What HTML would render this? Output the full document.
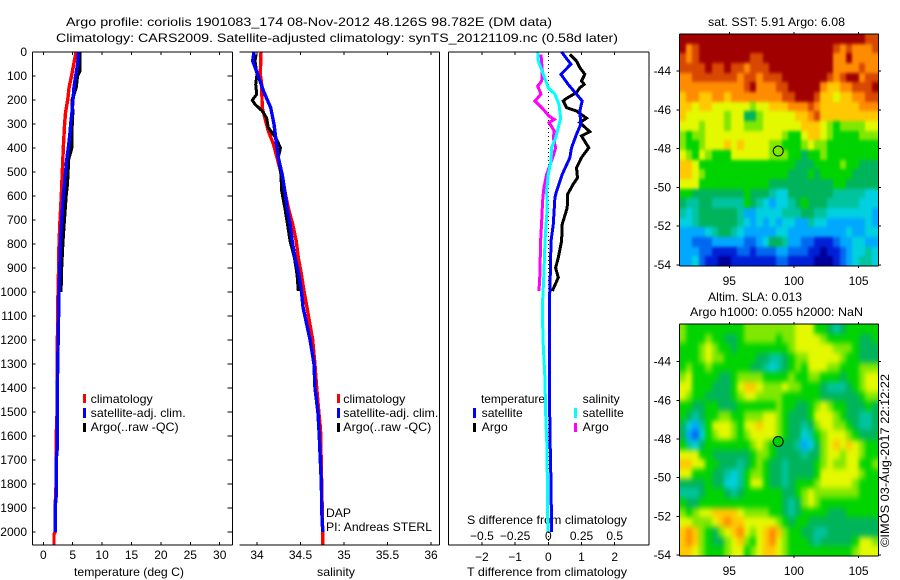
<!DOCTYPE html>
<html>
<head>
<meta charset="utf-8">
<title>Argo profile</title>
<style>
html,body{margin:0;padding:0;background:#fff;width:900px;height:580px;overflow:hidden}
svg{display:block}
text{font-family:"Liberation Sans",sans-serif;font-size:12px;fill:#000}
.ln{fill:none;shape-rendering:crispEdges}
</style>
</head>
<body>
<svg id="fig" xmlns="http://www.w3.org/2000/svg" width="900" height="580" viewBox="0 0 900 580">
<defs>
<filter id="sst-smooth" x="-10%" y="-10%" width="120%" height="120%" color-interpolation-filters="sRGB"><feGaussianBlur stdDeviation="1.2 1.7"/></filter>
<filter id="sla-smooth" x="-10%" y="-10%" width="120%" height="120%" color-interpolation-filters="sRGB"><feGaussianBlur stdDeviation="2.2 3"/></filter>
<clipPath id="sst-clip"><rect x="679.5" y="34" width="199" height="232"/></clipPath>
<clipPath id="sla-clip"><rect x="679.5" y="324" width="199" height="232"/></clipPath>
</defs>
<text x="66" y="26" textLength="486" lengthAdjust="spacingAndGlyphs">Argo profile: coriolis 1901083_174 08-Nov-2012 48.126S 98.782E (DM data)</text>
<text x="56" y="42" textLength="562" lengthAdjust="spacingAndGlyphs">Climatology: CARS2009. Satellite-adjusted climatology: synTS_20121109.nc (0.58d later)</text>
<text x="74" y="576" textLength="110" lengthAdjust="spacingAndGlyphs">temperature (deg C)</text>
<text x="317" y="576" textLength="38" lengthAdjust="spacingAndGlyphs">salinity</text>
<text x="467" y="576" textLength="160" lengthAdjust="spacingAndGlyphs">T difference from climatology</text>
<text x="467" y="524" textLength="160" lengthAdjust="spacingAndGlyphs">S difference from climatology</text>
<rect x="83" y="394" width="3" height="9" fill="#f00"/>
<text x="90.7" y="403" textLength="62" lengthAdjust="spacingAndGlyphs">climatology</text>
<rect x="83" y="408" width="3" height="10" fill="#00f"/>
<text x="90.7" y="417" textLength="95" lengthAdjust="spacingAndGlyphs">satellite-adj. clim.</text>
<rect x="83" y="423" width="3" height="9" fill="#000"/>
<text x="90.7" y="431" textLength="88" lengthAdjust="spacingAndGlyphs">Argo(..raw -QC)</text>
<rect x="337" y="394" width="3" height="9" fill="#f00"/>
<text x="343.3" y="403" textLength="62" lengthAdjust="spacingAndGlyphs">climatology</text>
<rect x="337" y="408" width="3" height="10" fill="#00f"/>
<text x="343.3" y="417" textLength="95" lengthAdjust="spacingAndGlyphs">satellite-adj. clim.</text>
<rect x="337" y="423" width="3" height="9" fill="#000"/>
<text x="343.3" y="431" textLength="88" lengthAdjust="spacingAndGlyphs">Argo(..raw -QC)</text>
<text x="326" y="517" textLength="25" lengthAdjust="spacingAndGlyphs">DAP</text>
<text x="326" y="531" textLength="106" lengthAdjust="spacingAndGlyphs">PI: Andreas STERL</text>
<text x="481" y="403" textLength="64" lengthAdjust="spacingAndGlyphs">temperature</text>
<rect x="473" y="408" width="3" height="10" fill="#00f"/>
<text x="481.7" y="417" textLength="41" lengthAdjust="spacingAndGlyphs">satellite</text>
<rect x="473" y="423" width="3" height="9" fill="#000"/>
<text x="481.7" y="431" textLength="26" lengthAdjust="spacingAndGlyphs">Argo</text>
<text x="582.7" y="403" textLength="37" lengthAdjust="spacingAndGlyphs">salinity</text>
<rect x="574" y="408" width="3" height="10" fill="#0ff"/>
<text x="582.7" y="417" textLength="41" lengthAdjust="spacingAndGlyphs">satellite</text>
<rect x="574" y="423" width="3" height="9" fill="#f0f"/>
<text x="582.7" y="431" textLength="26" lengthAdjust="spacingAndGlyphs">Argo</text>
<text x="708" y="26" textLength="137" lengthAdjust="spacingAndGlyphs">sat. SST: 5.91 Argo: 6.08</text>
<text x="708" y="301" textLength="94" lengthAdjust="spacingAndGlyphs">Altim. SLA: 0.013</text>
<text x="690" y="316" textLength="173" lengthAdjust="spacingAndGlyphs">Argo h1000: 0.055 h2000: NaN</text>
<text transform="translate(889,547) rotate(-90)" x="0" y="0" textLength="173" lengthAdjust="spacingAndGlyphs">©IMOS 03-Aug-2017 22:12:22</text>
</svg>
<script>
var depthTicks = [0,100,200,300,400,500,600,700,800,900,1000,1100,1200,1300,1400,1500,1600,1700,1800,1900,2000];
var tempTicks = [0,5,10,15,20,25,30];
var salTicks = [34,34.5,35,35.5,36];
var salTickLabels = ['34','34.5','35','35.5','36'];
var tDiffTicks = [-2,-1,0,1,2];
var tDiffLabels = ['\u22122','\u22121','0','1','2'];
var sDiffTicks = [-0.5,-0.25,0,0.25,0.5];
var sDiffLabels = ['\u22120.5','\u22120.25','0','0.25','0.5'];
var lonTicks = [95,100,105];
var latTicks = [-44,-46,-48,-50,-52,-54];

var tempClimDepth = [0,100,150,200,250,300,400,500,600,700,800,900,1000,1200,1400,1500,1600,1800,1900,2000,2010,2055];
var tempClimValue = [5.56,4.8,4.37,4.15,3.8,3.63,3.4,3.23,3.06,2.84,2.67,2.6,2.5,2.4,2.38,2.35,2.2,2.18,2.0,2.0,1.82,1.82];
var tempSatDepth = [0,50,100,150,200,250,300,350,400,450,500,600,700,800,900,1000,1400,1650,1700,1850,1900,2000];
var tempSatValue = [6.0,5.85,5.5,5.2,5.05,4.88,4.66,4.49,4.25,3.98,3.8,3.4,3.13,2.9,2.8,2.67,2.38,2.38,2.2,2.2,2.0,2.0];
var tempArgoDepth = [0,80,100,150,200,250,300,350,400,450,500,550,600,700,800,900,1000];
var tempArgoValue = [6.24,6.2,5.8,5.56,4.9,5.0,4.9,4.83,4.83,4.25,4.2,4.08,3.86,3.57,3.3,3.1,3.0];

var salClimDepth = [0,93,135,232,274,329,385,440,510,579,649,718,788,857,926,996,1065,1200,1300,1400,1500,1570,2000,2055];
var salClimValue = [34.046,34.038,34.054,34.06,34.09,34.13,34.19,34.23,34.28,34.32,34.36,34.41,34.45,34.475,34.51,34.54,34.575,34.64,34.665,34.686,34.71,34.73,34.755,34.755];
var salSatDepth = [0,38,93,162,232,301,371,440,510,579,649,718,788,857,926,996,1065,1200,1300,1400,1500,1600,1700,1800,1900,2000];
var salSatValue = [33.966,33.95,34.008,34.073,34.157,34.195,34.22,34.245,34.29,34.32,34.345,34.38,34.405,34.437,34.48,34.51,34.53,34.61,34.655,34.667,34.7,34.716,34.728,34.74,34.743,34.755];
var salArgoDepth = [10,38,93,135,176,201,218,246,274,315,357,399,440,510,579,649,718,788,857,926,996];
var salArgoValue = [33.99,33.977,34,33.985,33.996,33.946,33.977,34.06,34.11,34.13,34.215,34.27,34.245,34.275,34.284,34.32,34.35,34.38,34.43,34.46,34.475];

var tDiffSatDepth = [0,51,93,135,176,204,246,301,343,399,440,510,579,607,718,788,926,1065,1367,1600,1800,2000];
var tDiffSatValue = [0.4,0.68,0.38,0.6,0.85,1.02,0.95,0.98,0.85,0.7,0.65,0.42,0.25,0.2,0.15,0.08,0.06,0.03,0.03,0.05,0.08,0.1];
var tDiffArgoDepth = [10,38,65,93,121,135,149,169,193,204,232,246,276,294,332,350,399,440,482,524,551,593,649,718,788,857,899,940,996];
var tDiffArgoValue = [0.65,0.85,0.95,1.1,1.0,1.08,0.95,0.85,0.55,0.45,0.55,0.85,1.15,0.95,1.25,1.0,1.22,1.0,0.85,0.88,0.75,0.58,0.57,0.42,0.4,0.3,0.22,0.3,0.12];
var sDiffSatDepth = [0,38,93,149,176,218,274,315,357,399,454,510,579,649,788,926,1065,1200,1367,1500,1650,2000];
var sDiffSatValue = [-0.08,-0.075,-0.038,0,0.05,0.08,0.093,0.075,0.055,0.025,0.02,0,-0.013,-0.008,-0.025,-0.033,-0.045,-0.04,-0.025,-0.02,-0.01,-0.003];
var sDiffArgoDepth = [10,79,121,142,176,204,239,267,281,294,329,357,399,433,510,565,621,704,788,926,996];
var sDiffArgoValue = [-0.055,-0.045,-0.05,-0.08,-0.055,-0.1,-0.038,0.005,0.045,0.005,0.045,0.038,0.055,0.038,-0.013,-0.033,-0.043,-0.05,-0.058,-0.063,-0.07];

var argoLon = 98.782;
var argoLat = -48.126;
var argoSstLevel = 8;
var argoSlaLevel = 7;

var sstLevels = [
[13,13,13,13,13,13,13,13,13,13,13,13,13,13,13,13,13,13,13,13,13,13,13,13,13,13,13,13,13,12,12],
[13,11,12,13,13,13,13,13,13,13,13,13,13,13,13,13,13,13,13,13,13,13,13,13,12,11,12,11,11,11,12],
[12,11,12,13,13,13,13,13,13,13,13,12,12,13,13,13,13,13,13,13,13,13,13,13,11,11,13,11,11,11,11],
[12,12,12,12,13,12,12,13,12,12,11,12,12,12,13,13,13,13,13,13,13,13,13,13,11,11,11,11,12,11,11],
[11,11,12,12,12,12,12,12,12,11,12,12,11,12,12,12,13,13,13,13,13,13,13,12,11,12,13,13,11,12,12],
[11,11,11,11,11,11,11,11,11,11,12,13,11,11,11,12,12,13,13,13,13,13,11,10,10,11,11,12,12,12,13],
[10,11,11,10,10,11,11,10,11,11,11,11,11,11,11,11,12,12,13,13,13,12,10,10,9,10,10,11,11,12,12],
[10,10,9,10,10,9,9,9,9,9,9,8,9,9,10,10,10,11,11,11,12,11,10,10,10,10,10,10,11,11,11],
[10,9,9,9,9,9,9,8,9,9,6,6,8,9,9,9,9,9,10,10,11,12,10,10,10,10,10,10,10,10,10],
[9,9,9,8,9,9,9,8,9,9,8,8,8,9,9,9,9,9,9,10,10,10,9,8,7,8,8,8,8,9,9],
[8,7,8,8,9,9,9,9,9,9,9,9,9,9,9,9,8,7,7,9,10,10,9,8,7,7,7,7,8,8,8],
[8,7,7,8,9,9,9,10,9,10,9,9,9,9,8,8,7,7,7,8,9,8,8,7,7,7,7,7,7,7,7],
[9,8,7,9,8,7,7,7,9,9,9,9,9,9,8,8,8,7,7,6,7,7,8,7,7,7,7,7,7,7,7],
[10,10,9,7,7,7,7,7,7,7,7,7,7,7,7,7,7,7,6,6,6,7,7,7,7,8,7,7,6,6,6],
[10,10,9,8,7,7,7,7,7,7,7,7,7,7,7,7,7,6,6,6,7,6,7,7,7,7,7,6,6,6,6],
[9,9,9,7,7,7,7,7,7,7,7,7,7,7,6,6,6,6,6,6,6,6,6,6,7,7,6,6,6,6,6],
[7,7,6,6,6,6,6,6,6,6,7,6,6,6,5,4,4,6,6,6,6,6,6,6,5,5,5,5,5,4,4],
[6,5,5,6,6,5,5,5,5,5,7,6,5,4,3,4,4,5,6,7,6,6,6,5,5,5,5,5,4,4,4],
[5,4,5,6,6,6,6,6,6,5,3,3,4,4,4,4,5,5,5,6,6,5,5,4,4,4,4,4,4,4,3],
[4,4,5,6,6,6,6,6,6,5,4,3,4,3,4,3,4,4,3,3,5,4,4,3,3,3,3,3,3,4,3],
[3,3,3,3,4,5,6,6,5,4,3,3,3,3,3,4,4,3,3,3,3,3,3,3,3,3,4,3,3,4,4],
[3,3,2,2,2,3,3,3,3,3,2,2,3,4,6,6,5,3,3,2,2,1,1,1,2,3,3,4,4,3,3],
[3,3,3,2,2,1,1,1,1,2,2,1,2,2,2,3,3,2,2,2,1,1,0,1,1,2,3,4,4,5,4],
[3,3,4,2,1,1,0,0,1,1,1,1,1,1,1,2,2,1,1,1,1,0,0,0,1,2,3,4,5,5,4]
];

var slaLevels = [
[8,7,7,7,7,7,7,7,7,7,8,8,8,8,8,8,8,8,9,9,9,7,7,6,5,6,7,7,7,7,7],
[8,7,7,7,8,7,7,6,6,7,8,8,8,8,8,7,8,8,9,9,9,9,8,7,7,7,7,7,6,6,7],
[7,7,7,8,9,8,7,7,6,7,7,7,7,7,7,7,7,8,9,9,9,9,9,9,8,8,8,7,6,6,6],
[7,7,7,8,9,8,8,7,7,7,7,7,6,6,5,5,6,7,8,8,9,9,9,9,9,8,7,7,6,6,6],
[7,8,7,7,8,7,7,7,7,7,7,6,6,5,4,5,6,7,8,7,9,9,9,8,8,7,7,7,8,8,8],
[8,9,7,7,7,7,6,6,7,8,8,8,8,7,7,7,7,8,7,7,8,8,7,7,7,6,7,7,8,9,9],
[9,9,7,7,7,6,6,6,7,9,10,10,9,8,8,8,9,8,8,7,7,7,6,5,5,5,6,7,8,9,9],
[9,8,7,7,6,6,6,6,7,8,9,9,8,8,8,8,7,7,7,7,7,7,6,6,6,6,6,6,7,8,8],
[7,7,6,6,7,7,6,6,6,7,7,7,7,7,7,8,7,7,6,6,7,8,9,8,7,7,6,6,6,7,6],
[7,6,5,6,7,7,8,8,7,7,8,8,8,9,9,8,7,6,6,6,7,9,9,9,8,7,6,6,5,5,6],
[6,4,3,5,7,9,9,9,8,7,9,9,10,9,9,8,7,6,6,5,6,8,9,9,8,8,7,6,5,5,6],
[6,3,2,4,7,8,9,9,8,7,8,9,9,9,9,8,7,6,6,4,5,7,8,9,9,9,8,7,6,6,6],
[7,5,4,6,7,7,7,7,7,7,7,8,9,8,7,6,6,6,5,3,4,6,8,9,10,9,10,9,8,7,7],
[9,9,9,7,7,6,6,6,6,6,6,7,8,8,7,6,6,6,6,5,6,6,8,9,9,8,9,9,8,7,7],
[10,10,9,9,7,7,6,6,6,5,6,7,8,7,6,6,5,6,6,6,6,7,8,9,8,8,9,9,7,7,8],
[9,9,7,7,7,6,6,5,4,5,7,8,8,7,6,6,5,6,6,6,6,7,9,9,9,9,9,9,8,7,7],
[6,6,6,6,7,6,6,4,4,5,7,9,9,7,6,6,5,6,7,7,7,8,9,9,9,9,9,8,7,7,7],
[5,5,5,6,7,7,7,6,5,6,7,7,7,7,7,7,6,6,7,8,9,8,8,8,8,8,8,8,7,7,7],
[7,6,6,7,7,7,7,7,7,7,7,7,7,7,7,7,6,5,6,8,9,8,7,7,7,7,7,7,7,7,7],
[8,7,8,9,9,10,10,10,10,9,8,8,8,8,7,7,6,5,6,7,7,7,7,6,6,6,7,7,7,7,7],
[9,9,8,8,8,9,10,11,10,10,9,9,9,9,9,8,7,6,7,7,6,6,6,6,6,6,6,6,6,6,6],
[10,11,10,8,7,6,8,9,10,11,9,8,9,10,11,10,8,7,7,6,6,5,5,6,6,6,6,6,6,6,6],
[10,11,10,8,7,6,6,8,9,10,8,7,9,10,11,9,8,7,7,7,6,5,6,6,6,6,6,7,9,9,8],
[10,10,9,8,7,7,7,8,9,9,7,8,9,10,10,9,8,7,7,7,7,7,7,7,7,7,7,8,9,9,9]
];

var NS = 'http://www.w3.org/2000/svg';
var fig = document.getElementById('fig');
var palette = ['#00009a','#0020d8','#0068f0','#00a8ff','#00d0e0','#00c4a0','#00b45c','#00d400','#80e800','#e4f800','#ffc800','#ff8c00','#d84800','#a00000'];

function depthToY(d){ return 52 + d * 0.24; }
function tempToX(t){ return 43.3 + t * 5.88; }
function salToX(s){ return 257 + (s - 34) * 87; }
function tDiffToX(t){ return 548.3 + t * 33.2; }
function sDiffToX(s){ return 548.3 + s * 132.8; }
function lonToX(lon){ return 729.3 + (lon - 95) * 12.93; }

function make(tag, attrs, parent){
  var el = document.createElementNS(NS, tag);
  for (var k in attrs) el.setAttribute(k, attrs[k]);
  (parent || fig).appendChild(el);
  return el;
}

function seg(x1, y1, x2, y2, name){
  var el = make('line', {x1:x1, y1:y1, x2:x2, y2:y2, stroke:'#000', 'stroke-width':1, 'shape-rendering':'crispEdges'});
  
  
  return el;
}

function label(x, y, str, anchor, name){
  var el = make('text', {x:x, y:y, 'text-anchor':anchor});
  el.textContent = str;
  
  
  return el;
}

function profile(depths, values, xFn, color, width, name){
  var pts = depths.map(function(d, i){ return xFn(values[i]).toFixed(1) + ',' + depthToY(d).toFixed(1); }).join(' ');
  var el = make('polyline', {points:pts, stroke:color, 'stroke-width':width, 'class':'ln'});
  
  
  return el;
}

function heatmap(levels, left, right, top, bottom, name, clipId, filterId){
  var rows = levels.length, cols = levels[0].length;
  var w = (right - left) / cols, h = (bottom - top) / rows;
  var clipGroup = make('g', {'clip-path':'url(#' + clipId + ')'});
  
  
  var blurGroup = make('g', {filter:'url(#' + filterId + ')'}, clipGroup);
  
  
  levels.forEach(function(row, r){
    row.forEach(function(v, c){
      var x0 = Math.round(left + c * w), x1 = Math.round(left + (c + 1) * w);
      var y0 = Math.round(top + r * h), y1 = Math.round(top + (r + 1) * h);
      if (c === 0) x0 -= 15;
      if (c === cols - 1) x1 += 15;
      if (r === 0) y0 -= 15;
      if (r === rows - 1) y1 += 15;
      var el = make('rect', {x:x0, y:y0, width:x1 - x0 + 0.5, height:y1 - y0 + 0.5, fill:palette[v]}, blurGroup);
      
      
    });
  });
}

function mapFrame(top, bottom, lat44, latScale, name, argoLevel){
  var latToY = function(lat){ return lat44 + (-44 - lat) * latScale; };
  [[679.5,top,878.5,top],[679.5,bottom,878.5,bottom],[679.5,top,679.5,bottom],[878.5,top,878.5,bottom]].forEach(function(p){
    seg(p[0], p[1], p[2], p[3], name + '-border');
  });
  lonTicks.forEach(function(lon){
    var x = lonToX(lon);
    seg(x, top - 2, x, top, name + '-top-tick');
    seg(x, bottom, x, bottom + 2, name + '-lon-tick');
    label(x, bottom + 19, String(lon), 'middle', name + '-lon-label');
  });
  latTicks.forEach(function(lat){
    var y = latToY(lat);
    seg(676.5, y, 679.5, y, name + '-lat-tick');
    seg(878.5, y, 881, y, name + '-right-tick');
    label(671, y + 4, String(lat), 'end', name + '-lat-label');
  });
  var marker = make('circle', {cx:lonToX(argoLon), cy:latToY(argoLat), r:5, fill:palette[argoLevel], stroke:'#000', 'stroke-width':1});
  
  
}

function xAxisTicks(ticks, labels, xFn, labelY, name, topTicks){
  ticks.forEach(function(t, i){
    var x = xFn(t);
    if (topTicks) {
      seg(x, 52, x, 55, name + '-top-tick');
      seg(x, 542, x, 545, name + '-bottom-tick');
    }
    label(x, labelY, labels[i], 'middle', name + '-tick-label');
  });
}

/* temperature panel */
profile(tempClimDepth, tempClimValue, tempToX, '#f00', 3.4, 'temperature-climatology-line');
profile(tempArgoDepth, tempArgoValue, tempToX, '#000', 3.4, 'temperature-argo-line');
profile(tempSatDepth, tempSatValue, tempToX, '#00f', 3.4, 'temperature-satellite-line');
seg(32.5, 52, 232.5, 52, 'temperature-panel-top');
seg(32.5, 545, 232.5, 545, 'temperature-panel-bottom');
seg(32.5, 52, 32.5, 545, 'temperature-panel-left');
seg(232.5, 52, 232.5, 545, 'temperature-panel-right');
depthTicks.forEach(function(d){
  var y = depthToY(d);
  seg(32.5, y, 35.5, y, 'depth-tick-left');
  seg(227.5, y, 232.5, y, 'depth-tick-right');
  label(27, y + 4, String(d), 'end', 'depth-tick-label');
});
xAxisTicks(tempTicks, tempTicks.map(String), tempToX, 559, 'temperature', true);

/* salinity panel */
profile(salClimDepth, salClimValue, salToX, '#f00', 3.4, 'salinity-climatology-line');
profile(salArgoDepth, salArgoValue, salToX, '#000', 3, 'salinity-argo-line');
profile(salSatDepth, salSatValue, salToX, '#00f', 3.4, 'salinity-satellite-line');
seg(239.5, 52, 439.5, 52, 'salinity-panel-top');
seg(239.5, 545, 439.5, 545, 'salinity-panel-bottom');
seg(439.5, 52, 439.5, 545, 'salinity-panel-right');
xAxisTicks(salTicks, salTickLabels, salToX, 559, 'salinity', true);

/* difference panel */
var zeroLine = make('line', {x1:tDiffToX(0), y1:52, x2:tDiffToX(0), y2:545, stroke:'#000', 'stroke-width':1, 'stroke-dasharray':'1 3', 'shape-rendering':'crispEdges'});


profile(tDiffArgoDepth, tDiffArgoValue, tDiffToX, '#000', 3, 'difference-t-argo-line');
profile(tDiffSatDepth, tDiffSatValue, tDiffToX, '#00f', 3, 'difference-t-satellite-line');
profile(sDiffArgoDepth, sDiffArgoValue, sDiffToX, '#f0f', 3, 'difference-s-argo-line');
profile(sDiffSatDepth, sDiffSatValue, sDiffToX, '#0ff', 3, 'difference-s-satellite-line');
seg(448.5, 52, 649, 52, 'difference-panel-top');
seg(448.5, 545, 649, 545, 'difference-panel-bottom');
seg(448.5, 52, 448.5, 545, 'difference-panel-left');
seg(649, 52, 649, 545, 'difference-panel-right');
xAxisTicks(tDiffTicks, tDiffLabels, tDiffToX, 561, 'difference-t', true);
xAxisTicks(sDiffTicks, sDiffLabels, sDiffToX, 540, 'difference-s', false);

/* maps */
heatmap(sstLevels, 679.5, 878, 34, 266, 'sst', 'sst-clip', 'sst-smooth');
mapFrame(34, 266, 71, 19.4, 'sst-map', argoSstLevel);
heatmap(slaLevels, 679.5, 878, 324, 556, 'sla', 'sla-clip', 'sla-smooth');
mapFrame(324, 556, 361.7, 19.33, 'sla-map', argoSlaLevel);
</script>
</body>
</html>
